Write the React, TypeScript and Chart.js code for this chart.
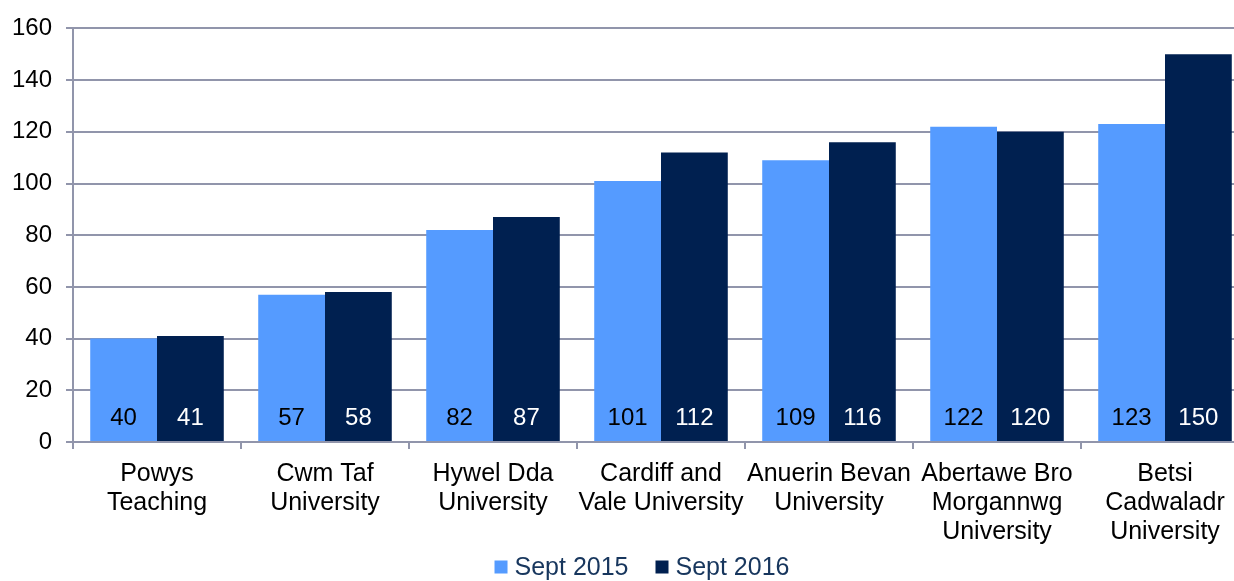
import React, { useEffect, useRef } from "react";
import { Chart, registerables } from "chart.js";

Chart.register(...registerables);

const categories: string[][] = [
  ["Powys", "Teaching"],
  ["Cwm Taf", "University"],
  ["Hywel Dda", "University"],
  ["Cardiff and", "Vale University"],
  ["Anuerin Bevan", "University"],
  ["Abertawe Bro", "Morgannwg", "University"],
  ["Betsi", "Cadwaladr", "University"],
];
const sept2015: number[] = [40, 57, 82, 101, 109, 122, 123];
const sept2016: number[] = [41, 58, 87, 112, 116, 120, 150];
const seriesNames: string[] = ["Sept 2015", "Sept 2016"];
const yTicks: number[] = [0, 20, 40, 60, 80, 100, 120, 140, 160];

const LIGHT = "#559BFF";
const DARK = "#002050";
const GRID = "#9195AB";
const LEGEND_TEXT = "#17365D";
const FONT = "'Liberation Sans', Arial, sans-serif";

const valueLabels = {
  id: "valueLabels",
  afterDatasetsDraw(chart: any) {
    const ctx = chart.ctx;
    const bottom = chart.chartArea.bottom;
    ctx.save();
    ctx.font = `24px ${FONT}`;
    ctx.textAlign = "center";
    ctx.textBaseline = "middle";
    chart.data.datasets.forEach((ds: any, di: number) => {
      const meta = chart.getDatasetMeta(di);
      ctx.fillStyle = di === 0 ? "#000000" : "#FFFFFF";
      meta.data.forEach((bar: any, i: number) => {
        ctx.fillText(String(ds.data[i]), bar.x, bottom - 24);
      });
    });
    ctx.restore();
  },
};

const bottomLegend = {
  id: "bottomLegend",
  afterDraw(chart: any) {
    const ctx = chart.ctx;
    const box = 13;
    const gapText = 7;
    const gapItem = 27;
    const cy = 567;
    ctx.save();
    ctx.font = `25px ${FONT}`;
    ctx.textBaseline = "middle";
    ctx.textAlign = "left";
    const items = chart.data.datasets.map((ds: any) => ({
      text: ds.label as string,
      color: ds.backgroundColor as string,
      w: ctx.measureText(ds.label).width as number,
    }));
    let total = 0;
    items.forEach((it: any, i: number) => {
      total += box + gapText + it.w + (i < items.length - 1 ? gapItem : 0);
    });
    let x = chart.width / 2 - total / 2;
    items.forEach((it: any) => {
      ctx.fillStyle = it.color;
      ctx.fillRect(x, cy - box / 2, box, box);
      x += box + gapText;
      ctx.fillStyle = LEGEND_TEXT;
      ctx.fillText(it.text, x, cy + 1);
      x += it.w + gapItem;
    });
    ctx.restore();
  },
};

export default function App() {
  const ref = useRef<HTMLCanvasElement | null>(null);
  useEffect(() => {
    if (!ref.current) return;
    Chart.defaults.font.family = FONT;
    const chart = new Chart(ref.current, {
      type: "bar",
      data: {
        labels: categories,
        datasets: [
          {
            label: seriesNames[0],
            data: sept2015,
            backgroundColor: LIGHT,
            barPercentage: 1,
            categoryPercentage: 0.795,
          },
          {
            label: seriesNames[1],
            data: sept2016,
            backgroundColor: DARK,
            barPercentage: 1,
            categoryPercentage: 0.795,
          },
        ],
      },
      options: {
        animation: false,
        responsive: false,
        maintainAspectRatio: false,
        layout: { padding: { top: 28, right: 35, left: 0, bottom: 0 } },
        plugins: {
          tooltip: { enabled: false },
          legend: { display: false },
        },
        scales: {
          x: {
            afterFit: (s: any) => {
              s.height = 139;
            },
            grid: {
              drawOnChartArea: false,
              drawTicks: true,
              tickLength: 7,
              offset: true,
              color: GRID,
              lineWidth: 2,
            },
            border: { color: GRID, width: 2 },
            ticks: {
              color: "#000000",
              font: { size: 25, family: FONT, lineHeight: 1.17 },
              padding: 10,
              maxRotation: 0,
              autoSkip: false,
            },
          },
          y: {
            min: 0,
            max: 160,
            afterFit: (s: any) => {
              s.width = 73;
            },
            afterBuildTicks: (s: any) => {
              s.ticks = yTicks.map((v) => ({ value: v }));
            },
            grid: {
              color: GRID,
              lineWidth: 2,
              tickLength: 7,
            },
            border: { color: GRID, width: 2 },
            ticks: {
              color: "#000000",
              font: { size: 24, family: FONT },
              padding: 14,
            },
          },
        },
      },
      plugins: [valueLabels, bottomLegend],
    });
    return () => chart.destroy();
  }, []);
  return (
    <div
      style={{
        position: "absolute",
        left: 0,
        top: 0,
        width: 1234,
        height: 581,
        overflow: "hidden",
        background: "#FFFFFF",
      }}
    >
      <canvas ref={ref} width={1284} height={581} style={{ display: "block" }} />
    </div>
  );
}
